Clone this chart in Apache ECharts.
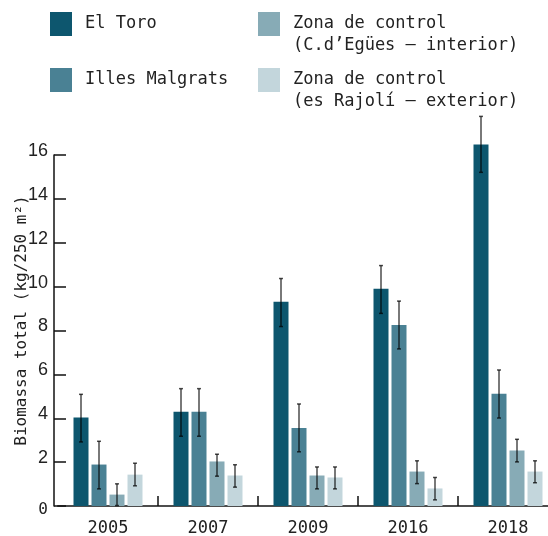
<!DOCTYPE html>
<html>
<head>
<meta charset="utf-8">
<script src="https://cdn.jsdelivr.net/npm/echarts@6/dist/echarts.min.js"></script>
<style>html,body{margin:0;padding:0;background:#fff}#c{width:548px;height:536px}</style>
</head>
<body>
<div id="c"></div>
<script>
const years = ['2005', '2007', '2009', '2016', '2018'];
const seriesNames = ['El Toro', 'Illes Malgrats', 'Zona de control\n(C.d’Egües – interior)', 'Zona de control\n(es Rajolí – exterior)'];
const elToro = [4.03, 4.30, 9.31, 9.90, 16.48];
const elToroLo = [2.92, 3.18, 8.18, 8.78, 15.21];
const elToroHi = [5.09, 5.35, 10.37, 10.96, 17.76];
const illes = [1.89, 4.30, 3.56, 8.25, 5.12];
const illesLo = [0.78, 3.18, 2.47, 7.16, 4.01];
const illesHi = [2.95, 5.35, 4.65, 9.34, 6.20];
const cdEgues = [0.52, 2.03, 1.39, 1.57, 2.53];
const cdEguesLo = [0.02, 1.36, 0.78, 1.02, 2.01];
const cdEguesHi = [1.01, 2.36, 1.78, 2.06, 3.04];
const rajoli = [1.43, 1.39, 1.30, 0.80, 1.57];
const rajoliLo = [0.92, 0.86, 0.78, 0.28, 1.06];
const rajoliHi = [1.95, 1.88, 1.78, 1.30, 2.06];
const yTicks = [0, 2, 4, 6, 8, 10, 12, 14, 16];

const colors = ['#0d566e', '#4a8194', '#87abb6', '#c3d6dc'];
const values = [elToro, illes, cdEgues, rajoli];
const lows = [elToroLo, illesLo, cdEguesLo, rajoliLo];
const highs = [elToroHi, illesHi, cdEguesHi, rajoliHi];

const MONO = '"DejaVu Sans Mono", "Liberation Mono", monospace';
const BAR_W = 15, BAR_GAP = 3;

const barSeries = values.map((v, i) => ({
  name: seriesNames[i],
  type: 'bar',
  data: v,
  barWidth: BAR_W,
  barGap: (BAR_GAP / BAR_W * 100) + '%',
  itemStyle: { color: colors[i] },
  clip: false,
  z: 2
}));

const errSeries = values.map((v, i) => ({
  name: seriesNames[i],
  type: 'custom',
  clip: false,
  z: 5,
  data: years.map((y, k) => [k, lows[i][k], highs[i][k]]),
  encode: { x: 0, y: [1, 2] },
  renderItem: function (params, api) {
    const off = (i - 1.5) * (BAR_W + BAR_GAP);
    const x = api.coord([api.value(0), 0])[0] + off;
    const yLo = api.coord([api.value(0), api.value(1)])[1];
    const yHi = api.coord([api.value(0), api.value(2)])[1];
    const st = { stroke: 'rgba(0,0,0,0.7)', lineWidth: 1.5 };
    const cap = 2;
    return {
      type: 'group',
      children: [
        { type: 'line', shape: { x1: x, y1: yLo, x2: x, y2: yHi }, style: st },
        { type: 'line', shape: { x1: x - cap, y1: yHi, x2: x + cap, y2: yHi }, style: st },
        { type: 'line', shape: { x1: x - cap, y1: yLo, x2: x + cap, y2: yLo }, style: st }
      ]
    };
  }
}));

function legendFor(idx, left, top, twoLine) {
  return {
    data: [seriesNames[idx]],
    left: left,
    top: top,
    padding: 0,
    icon: 'rect',
    itemWidth: 22,
    itemHeight: 24,
    formatter: function (name) { return twoLine ? ' \n' + name : name; },
    textStyle: {
      fontFamily: MONO,
      fontSize: 17,
      color: '#222',
      lineHeight: 22,
      padding: [0, 0, 0, 8]
    }
  };
}

const chart = echarts.init(document.getElementById('c'), null, { renderer: 'canvas' });
chart.setOption({
  backgroundColor: '#fff',
  animation: false,
  legend: [
    legendFor(0, 50, 12, false),
    legendFor(1, 50, 68, false),
    legendFor(2, 258, -9, true),
    legendFor(3, 258, 47, true)
  ],
  grid: { left: 58, right: -10, top: 155, bottom: 30, containLabel: false, outerBoundsMode: 'none' },
  xAxis: {
    type: 'category',
    data: years,
    boundaryGap: true,
    axisLine: { lineStyle: { color: '#4d4d4d', width: 2 } },
    axisTick: {
      show: true, inside: true, length: 10,
      interval: function (index) { return index > 0; },
      lineStyle: { color: '#111', width: 1.5 }
    },
    axisLabel: { fontFamily: MONO, fontSize: 17, color: '#222', margin: 14 },
    splitLine: { show: false }
  },
  yAxis: {
    type: 'value',
    min: 0,
    max: 16,
    interval: 2,
    offset: 4,
    name: 'Biomassa total (kg/250 m²)',
    nameLocation: 'middle',
    nameRotate: 90,
    nameGap: 24,
    nameMoveOverlap: false,
    nameTextStyle: { fontFamily: MONO, fontSize: 16, color: '#222', padding: [0, 0, 0, 20] },
    axisLine: { show: true, lineStyle: { color: '#111', width: 1.5 } },
    axisTick: { show: true, inside: true, length: 12, lineStyle: { color: '#111', width: 1.5 } },
    axisLabel: {
      margin: 6,
      fontFamily: '"Liberation Sans Narrow", "Liberation Sans", sans-serif',
      fontSize: 18,
      color: '#222',
      padding: [0, 0, 8, 0],
      formatter: function (v) { return v === 0 ? '{m|0}' : String(v); },
      rich: { m: { fontFamily: MONO, fontSize: 16, color: '#222', padding: [16, 0, 0, 0] } }
    },
    splitLine: { show: false }
  },
  series: barSeries.concat(errSeries)
});
</script>
</body>
</html>
